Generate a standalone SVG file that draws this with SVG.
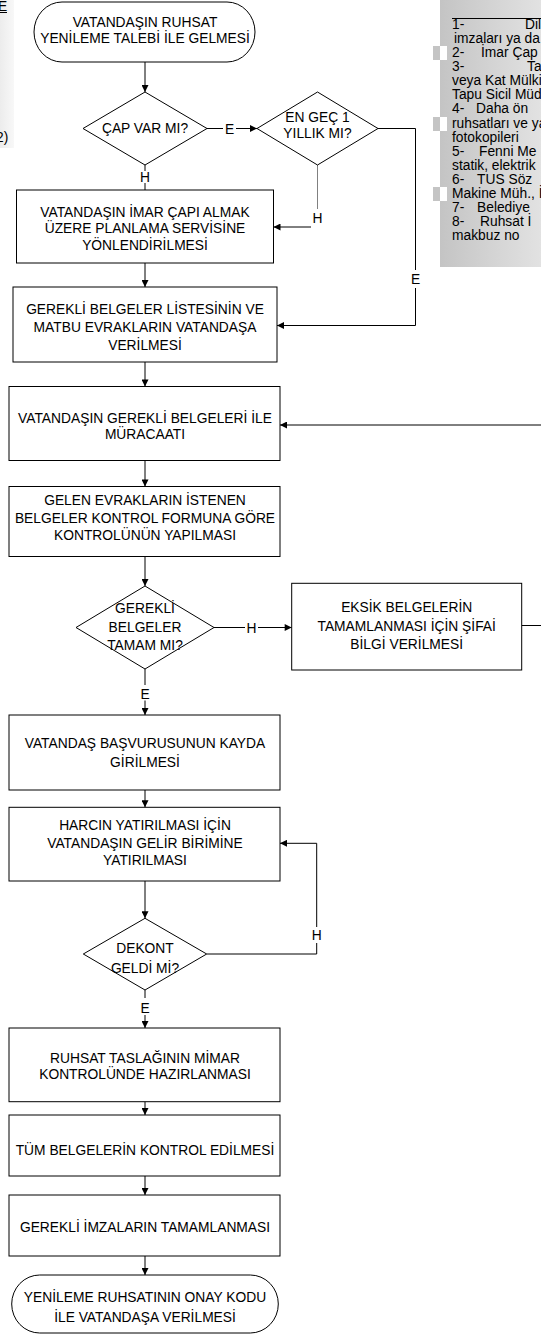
<svg xmlns="http://www.w3.org/2000/svg" width="541" height="1335" viewBox="0 0 541 1335">
<style>
.box{fill:#fff;stroke:#000;stroke-width:1}
.t{font-family:"Liberation Sans",Arial,sans-serif;font-size:13.8px;text-anchor:middle;fill:#000}
.pt{font-family:"Liberation Sans",Arial,sans-serif;font-size:13.8px;fill:#000}
.c{fill:none;stroke:#000;stroke-width:1}
.g{stroke:#808080}
</style>
<defs>
<marker id="ah" viewBox="0 0 10 10" refX="10" refY="5" markerWidth="8" markerHeight="7" markerUnits="userSpaceOnUse" orient="auto">
<path d="M0,0 L10,5 L0,10 z" fill="#000"/>
</marker>
<linearGradient id="pg" x1="0" y1="0" x2="1" y2="0">
<stop offset="0" stop-color="#c4c4c4"/>
<stop offset="1" stop-color="#e2e2e2"/>
</linearGradient>
<linearGradient id="lg" x1="0" y1="0" x2="1" y2="0">
<stop offset="0" stop-color="#ececec"/>
<stop offset="1" stop-color="#f8f8f8"/>
</linearGradient>
</defs>

<g id="left-panel">
<rect x="0" y="0" width="14" height="148" fill="url(#lg)"/>
<text class="pt" x="-2" y="11">E</text>
<line x1="0" y1="12.5" x2="7" y2="12.5" stroke="#000" stroke-width="1"/>
<text class="pt" x="-4" y="142">2)</text>
</g>

<g id="right-panel">
<rect x="440" y="0" width="101" height="267" fill="url(#pg)"/>
<line x1="452" y1="18.5" x2="541" y2="18.5" stroke="#000" stroke-width="1"/>
<rect x="433" y="46" width="7" height="14" fill="#c4c4c4"/>
<rect x="440" y="46" width="7" height="14" fill="#fff"/>
<rect x="433" y="117" width="7" height="14" fill="#c4c4c4"/>
<rect x="440" y="117" width="7" height="14" fill="#fff"/>
<rect x="433" y="187" width="7" height="14" fill="#c4c4c4"/>
<rect x="440" y="187" width="7" height="14" fill="#fff"/>
<text class="pt" x="452" y="29">1-</text><text class="pt" x="525" y="29">Dil</text>
<text class="pt" x="454" y="43">imzaları ya da</text>
<text class="pt" x="452" y="57">2-</text><text class="pt" x="481" y="57">İmar Çap</text>
<text class="pt" x="452" y="71">3-</text><text class="pt" x="527" y="71">Ta</text>
<text class="pt" x="452" y="85">veya Kat Mülki</text>
<text class="pt" x="452" y="99">Tapu Sicil Müd</text>
<text class="pt" x="452" y="113">4-</text><text class="pt" x="476" y="113">Daha ön</text>
<text class="pt" x="452" y="128">ruhsatları ve ya</text>
<text class="pt" x="452" y="142">fotokopileri</text>
<text class="pt" x="452" y="156">5-</text><text class="pt" x="479" y="156">Fenni Me</text>
<text class="pt" x="452" y="170">statik, elektrik</text>
<text class="pt" x="452" y="184">6-</text><text class="pt" x="477" y="184">TUS Söz</text>
<text class="pt" x="452" y="198">Makine Müh., İ</text>
<text class="pt" x="452" y="212">7-</text><text class="pt" x="477" y="212">Belediye</text>
<text class="pt" x="452" y="226">8-</text><text class="pt" x="480" y="226">Ruhsat İ</text>
<text class="pt" x="452" y="240">makbuz no</text>
</g>

<g id="connectors">
<line class="c" x1="145" y1="62" x2="145" y2="92" marker-end="url(#ah)"/>
<line class="c" x1="207" y1="128.5" x2="223" y2="128.5"/>
<text class="t" x="229.5" y="133.5">E</text>
<line class="c" x1="236" y1="128.5" x2="257" y2="128.5" marker-end="url(#ah)"/>
<line class="c" x1="145" y1="165" x2="145" y2="171"/>
<text class="t" x="145" y="182">H</text>
<line class="c" x1="145" y1="183" x2="145" y2="190"/>
<line class="c g" x1="317.5" y1="165" x2="317.5" y2="209"/>
<text class="t" x="317.5" y="223">H</text>
<line class="c" x1="311" y1="227" x2="273.5" y2="227" marker-end="url(#ah)"/>
<polyline class="c" points="378,128.5 415.5,128.5 415.5,270"/>
<text class="t" x="415.5" y="284">E</text>
<polyline class="c" points="415.5,288 415.5,325.5 277,325.5" marker-end="url(#ah)"/>
<line class="c" x1="145" y1="263" x2="145" y2="287" marker-end="url(#ah)"/>
<line class="c" x1="145" y1="362" x2="145" y2="386.5" marker-end="url(#ah)"/>
<polyline class="c" points="521.7,625.5 546,625.5 546,425 280,425" marker-end="url(#ah)"/>
<line class="c" x1="145" y1="460.5" x2="145" y2="486.5" marker-end="url(#ah)"/>
<line class="c" x1="145" y1="556.5" x2="145" y2="586" marker-end="url(#ah)"/>
<line class="c" x1="214" y1="627.5" x2="245" y2="627.5"/>
<text class="t" x="251.5" y="632.5">H</text>
<line class="c" x1="258" y1="627.5" x2="291.7" y2="627.5" marker-end="url(#ah)"/>
<line class="c" x1="145" y1="669" x2="145" y2="685"/>
<text class="t" x="145" y="698.5">E</text>
<line class="c" x1="145" y1="700.5" x2="145" y2="715" marker-end="url(#ah)"/>
<line class="c" x1="145" y1="790" x2="145" y2="807.3" marker-end="url(#ah)"/>
<line class="c" x1="145" y1="881" x2="145" y2="918.3" marker-end="url(#ah)"/>
<polyline class="c" points="206.7,954 316.7,954 316.7,943"/>
<text class="t" x="316.7" y="940">H</text>
<polyline class="c" points="316.7,927 316.7,843.3 280,843.3" marker-end="url(#ah)"/>
<line class="c" x1="145" y1="990" x2="145" y2="998"/>
<text class="t" x="145" y="1012.5">E</text>
<line class="c" x1="145" y1="1015" x2="145" y2="1028" marker-end="url(#ah)"/>
<line class="c" x1="145" y1="1101.7" x2="145" y2="1115" marker-end="url(#ah)"/>
<line class="c" x1="145" y1="1176" x2="145" y2="1195" marker-end="url(#ah)"/>
<line class="c" x1="145" y1="1256" x2="145" y2="1275" marker-end="url(#ah)"/>
</g>

<g id="start">
<rect class="box" x="34" y="2" width="221" height="60" rx="28" ry="30"/>
<text class="t" x="145" y="27">VATANDAŞIN RUHSAT</text>
<text class="t" x="145" y="43">YENİLEME TALEBİ İLE GELMESİ</text>
</g>

<g id="cap-var-mi">
<polygon class="box" points="145,92 207,128.5 145,165 83,128.5"/>
<text class="t" x="145" y="133">ÇAP VAR MI?</text>
</g>

<g id="en-gec-1-yillik">
<polygon class="box" points="317.5,92 378,128.5 317.5,165 257,128.5"/>
<text class="t" x="317.5" y="122">EN GEÇ 1</text>
<text class="t" x="317.5" y="138">YILLIK MI?</text>
</g>

<g id="imar-capi">
<rect class="box" x="16.5" y="190" width="257" height="73"/>
<text class="t" x="145" y="216.7">VATANDAŞIN İMAR ÇAPI ALMAK</text>
<text class="t" x="145" y="233.3">ÜZERE PLANLAMA SERVİSİNE</text>
<text class="t" x="145" y="250">YÖNLENDİRİLMESİ</text>
</g>

<g id="belge-listesi">
<rect class="box" x="13" y="287" width="264" height="75"/>
<text class="t" x="145" y="314">GEREKLİ BELGELER LİSTESİNİN VE</text>
<text class="t" x="145" y="332">MATBU EVRAKLARIN VATANDAŞA</text>
<text class="t" x="145" y="350">VERİLMESİ</text>
</g>

<g id="muracaat">
<rect class="box" x="9" y="386.5" width="271" height="74"/>
<text class="t" x="145" y="423">VATANDAŞIN GEREKLİ BELGELERİ İLE</text>
<text class="t" x="145" y="439">MÜRACAATI</text>
</g>

<g id="kontrol-formu">
<rect class="box" x="9" y="486.5" width="271" height="70"/>
<text class="t" x="145" y="505">GELEN EVRAKLARIN İSTENEN</text>
<text class="t" x="145" y="523">BELGELER KONTROL FORMUNA GÖRE</text>
<text class="t" x="145" y="540">KONTROLÜNÜN YAPILMASI</text>
</g>

<g id="belgeler-tamam-mi">
<polygon class="box" points="145,586 214,627.5 145,669 76,627.5"/>
<text class="t" x="145" y="613">GEREKLİ</text>
<text class="t" x="145" y="631.5">BELGELER</text>
<text class="t" x="145" y="650">TAMAM MI?</text>
</g>

<g id="eksik-belge">
<rect class="box" x="291.7" y="583.3" width="230" height="86.7"/>
<text class="t" x="406.7" y="611.7">EKSİK BELGELERİN</text>
<text class="t" x="406.7" y="631">TAMAMLANMASI İÇİN ŞİFAİ</text>
<text class="t" x="406.7" y="648.5">BİLGİ VERİLMESİ</text>
</g>

<g id="kayit">
<rect class="box" x="9" y="715" width="271" height="75"/>
<text class="t" x="145" y="748.3">VATANDAŞ BAŞVURUSUNUN KAYDA</text>
<text class="t" x="145" y="766.7">GİRİLMESİ</text>
</g>

<g id="harc">
<rect class="box" x="9" y="807.3" width="271" height="73.7"/>
<text class="t" x="145" y="830">HARCIN YATIRILMASI İÇİN</text>
<text class="t" x="145" y="848">VATANDAŞIN GELİR BİRİMİNE</text>
<text class="t" x="145" y="865">YATIRILMASI</text>
</g>

<g id="dekont">
<polygon class="box" points="145,918.3 206.7,954 145,990 83.3,954"/>
<text class="t" x="145" y="953.3">DEKONT</text>
<text class="t" x="145" y="973.3">GELDİ Mİ?</text>
</g>

<g id="taslak">
<rect class="box" x="9" y="1028" width="271" height="73.7"/>
<text class="t" x="145" y="1063">RUHSAT TASLAĞININ MİMAR</text>
<text class="t" x="145" y="1078.5">KONTROLÜNDE HAZIRLANMASI</text>
</g>

<g id="belge-kontrol">
<rect class="box" x="9" y="1115" width="271" height="61"/>
<text class="t" x="145" y="1155">TÜM BELGELERİN KONTROL EDİLMESİ</text>
</g>

<g id="imzalar">
<rect class="box" x="9" y="1195" width="271" height="61"/>
<text class="t" x="145" y="1231.7">GEREKLİ İMZALARIN TAMAMLANMASI</text>
</g>

<g id="end">
<rect class="box" x="11.7" y="1275" width="266.6" height="58" rx="28" ry="29"/>
<text class="t" x="145" y="1301.7">YENİLEME RUHSATININ ONAY KODU</text>
<text class="t" x="145" y="1321.7">İLE VATANDAŞA VERİLMESİ</text>
</g>
</svg>
